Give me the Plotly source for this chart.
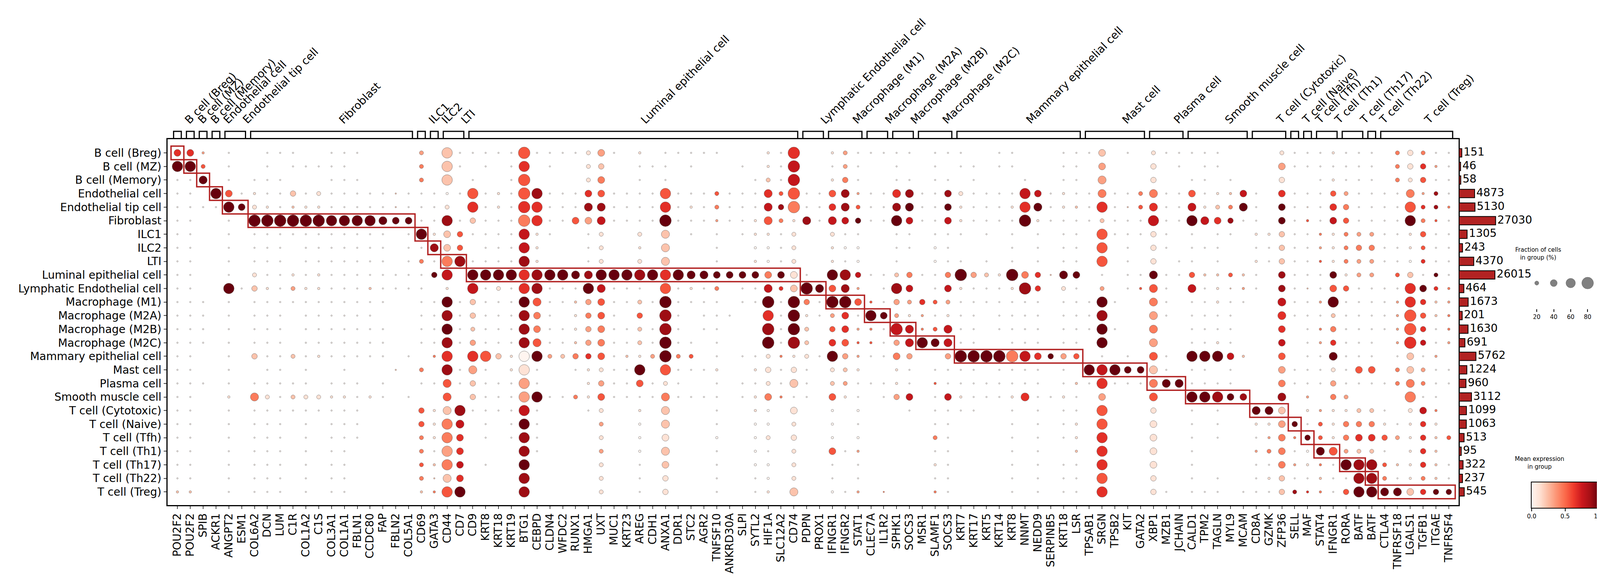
import numpy as np
import plotly.graph_objects as go

W, H = 4124, 1476
FONT = "DejaVu Sans"

CELL_TYPES = [
    "B cell (Breg)", "B cell (MZ)", "B cell (Memory)", "Endothelial cell",
    "Endothelial tip cell", "Fibroblast", "ILC1", "ILC2", "LTI",
    "Luminal epithelial cell", "Lymphatic Endothelial cell", "Macrophage (M1)",
    "Macrophage (M2A)", "Macrophage (M2B)", "Macrophage (M2C)",
    "Mammary epithelial cell", "Mast cell", "Plasma cell", "Smooth muscle cell",
    "T cell (Cytotoxic)", "T cell (Naive)", "T cell (Tfh)", "T cell (Th1)",
    "T cell (Th17)", "T cell (Th22)", "T cell (Treg)",
]
CELL_COUNTS = [151, 46, 58, 4873, 5130, 27030, 1305, 243, 4370, 26015, 464, 1673,
               201, 1630, 691, 5762, 1224, 960, 3112, 1099, 1063, 513, 95, 322, 237, 545]

GENES = [
    "POU2F2", "POU2F2", "SPIB", "ACKR1", "ANGPT2", "ESM1", "COL6A2", "DCN", "LUM", "C1R",
    "COL1A2", "C1S", "COL3A1", "COL1A1", "FBLN1", "CCDC80", "FAP", "FBLN2", "COL5A1", "CD69",
    "GATA3", "CD44", "CD7", "CD9", "KRT8", "KRT18", "KRT19", "BTG1", "CEBPD", "CLDN4",
    "WFDC2", "RUNX1", "HMGA1", "UXT", "MUC1", "KRT23", "AREG", "CDH1", "ANXA1", "DDR1",
    "STC2", "AGR2", "TNFSF10", "ANKRD30A", "SLPI", "SYTL2", "HIF1A", "SLC12A2", "CD74", "PDPN",
    "PROX1", "IFNGR1", "IFNGR2", "STAT1", "CLEC7A", "IL1R2", "SPHK1", "SOCS3", "MSR1", "SLAMF1",
    "SOCS3", "KRT7", "KRT17", "KRT5", "KRT14", "KRT8", "NNMT", "NEDD9", "SERPINB5", "KRT18",
    "LSR", "TPSAB1", "SRGN", "TPSB2", "KIT", "GATA2", "XBP1", "MZB1", "JCHAIN", "CALD1",
    "TPM2", "TAGLN", "MYL9", "MCAM", "CD8A", "GZMK", "ZFP36", "SELL", "MAF", "STAT4",
    "IFNGR1", "RORA", "BATF", "BATF", "CTLA4", "TNFRSF18", "LGALS1", "TGFB1", "ITGAE", "TNFRSF4",
]
# number of marker genes per cell type (same order as CELL_TYPES)
GROUP_SIZES = [1, 1, 1, 1, 2, 13, 1, 1, 2, 26, 2, 3, 2, 2, 3, 10, 5, 3, 5, 3, 1, 1, 2, 2, 1, 6]

# fraction of cells level per dot (index into FRACTION_LEVELS), one string per cell type
FRACTION_LEVELS = [0, 5, 10, 20, 30, 40, 50, 70, 80, 90]  # percent
FRACTION_CODES = [
    "5520100111 0011100003 0711111811 1135102011 1110002180 0231111101 1100110001 1150103111 1100003111 2111034311",
    "7730100101 1111000003 0710101701 0034001110 1000102180 0131001001 0110110001 1050004010 1100005111 1111034421",
    "1160101110 0011100003 0701001800 0035001010 0000013180 0241001101 1010001001 1060004001 1010004001 2111033411",
    "1107512114 1311111111 1217121871 1155111171 1131116381 1562116611 5311117512 1161136115 1225105111 4311116231",
    "1111753212 2211111111 1307121871 1166111171 2131116481 1563116611 5211127612 2171136116 2336105111 5411117332",
    "1100108888 8877776551 1714111871 1556111181 1121126326 1654117511 5211118211 1131117117 6541105121 5411117321",
    "1100101111 1111111017 2541111721 0013003060 1010122130 0311001101 1101010101 1071114101 0110224112 2333112411",
    "1100101110 1111111011 6540111720 0013002060 0010022130 0222001102 1000010101 1070104101 1100114112 2344112311",
    "1100101110 1111111013 1771111720 0013003060 0010022130 0212001002 1101010101 1070104011 0100214112 2333112311",
    "1100103112 1211111111 4707777777 7667777777 6655555551 0774113411 4843285416 5010116114 2232105111 5233034131",
    "1100714213 2211121111 0207131771 1176111071 2130116358 6562017501 5211128403 1030126106 1212105111 5411117532",
    "1110101111 1111111001 1714111761 1245113181 1110118184 1885214343 3111111101 1171006101 1211006112 7111127422",
    "1110101110 1111110001 1714111751 0245104081 0111007182 1351753221 2110111101 1170006101 1110006111 3111128422",
    "1110101110 1111111001 1713111751 1245113181 0110008183 0452218623 6110111101 1171006001 1110005012 4111128412",
    "1110101110 1111111001 1714111761 1245113181 1010008183 0552214676 6110011101 1070006001 1210005012 4111028412",
    "1100104113 1211111010 2707742773 3445122383 3010113223 1742115400 4888887544 4010106107 7752005011 6111015120",
    "1100100110 1001000103 0716102710 0123117071 1120024141 0332002101 1110111101 0777556101 1010005111 3155035311",
    "1110101111 1011101001 1614111710 0024115131 0010113161 0331112102 1111111101 2171116661 1110005111 4111136311",
    "1100206313 3322121010 0604111771 1325111161 1110125211 0521014501 5211126112 1050006007 7755006020 4300007110",
    "1100101111 1111100004 2671111710 0013002060 0010022050 0202000101 1110010101 1070004001 0100665022 2233103520",
    "1100101110 1011100004 2760101710 0003002060 0010022030 0201000001 1000010101 2070005001 0100225413 2444212420",
    "1100101110 1011100003 2750101710 0003002050 0020023040 0202000003 1000010101 2070005001 0100125243 2455432423",
    "1100101110 1011000003 1750000710 0003002060 0010021030 0512000001 1000010100 2070005001 0000235126 6333102420",
    "1100101110 1011000003 2750100700 0003001050 0010022030 0101000002 1000010101 1070005001 0000115222 1777322421",
    "1100101110 1011000003 1650000700 0003001040 0010012030 0101000001 1000010101 1070004001 0100124112 1177312321",
    "2200101110 1011000002 2770000700 0003001040 0010012060 0212010002 1000010101 1070004101 1101114322 1477665444",
]
# mean expression level per dot, 0..9 -> 0..1
EXPRESSION_CODES = [
    "6630000000 0000000003 0200000500 0013001000 0000001060 0130000000 0000000000 0020001000 0000001000 1000041400",
    "9950000000 0000000004 0200000600 0012000000 0000001070 0030000000 0000000000 0030001000 0000003000 0000041630",
    "0090000000 0000000004 0200000500 0014000000 0000002070 0140000000 0000000000 0030001000 0000001000 1000041500",
    "0009501002 0100000200 0005010580 0065000050 0050006550 0583006800 8100007701 0040044005 0127006000 5300004380",
    "0000991102 1100000200 0106010660 0088000060 1040007840 0685008900 9100016901 2060256007 1249009010 6400005684",
    "0000009999 9999999990 0802000460 0537000090 0030015418 0779009700 7100009100 0020007009 7680009050 7500009450",
    "0000000000 0000000009 1250000710 0001001020 0000011010 0100000000 0000000000 0050001000 0000112004 1433001500",
    "0000000000 0000000000 8250000710 0001001020 0000000010 0100000000 0000000000 0050001000 0000002003 1444001500",
    "0000000000 0000000004 0480000810 0001001020 0000010010 0100000000 0000000000 0050001000 0000102005 1433000600",
    "0000001001 0100000000 9709999689 9989998969 9999994910 0987002400 4932194629 9000009005 2252008000 9133052090",
    "0000902103 1100020000 0107010680 0097000050 1040007629 9583008700 7100018601 0030055007 0123008020 5500006964",
    "0000000000 0000000000 0902000950 0235002090 0000009094 0995503365 3000000000 0090004000 0100007003 9000036623",
    "0000000000 0000000000 0802000840 0145005080 0000006091 0360993130 1000000000 0080003000 0000006000 2000035524",
    "0000000000 0000000000 0902000840 0134002080 0000008092 0563407745 7000000000 0090004000 0000006004 4000035604",
    "0000000000 0000000000 0803000850 0234002090 0000009082 0655503799 7000000000 0090003000 0100007003 6000036703",
    "0000002002 0100000000 4606521093 2465021394 5000001411 0933004300 3999947693 5000005009 9972005000 9000002030",
    "0000000000 0000000204 0803001100 0011009050 0010011010 0121001000 0000000000 0979992000 0000003000 1055042300",
    "0000000000 0000000000 0502000300 0013005010 0000001020 0230001005 0000000000 2060004990 0000004000 3000044400",
    "0000104102 1111010000 0502000390 0415000040 0000014400 0510003700 7100016001 0030005009 9898008030 4300004000",
    "0000000000 0000000005 1280000700 0001001020 0000010010 0000000000 0000000000 0050001000 0000992013 1122001740",
    "0000000000 0000000005 1470000900 0003000020 0000000010 0000000000 0000000000 1050001000 0000113905 1444101610",
    "0000000000 0000000004 1460000800 0001000010 0000001010 0000000004 0000000000 1060001000 0000034495 1466531625",
    "0000000000 0000000004 0360000800 0003000020 0000000010 0503000000 0000000000 2060001000 0000344009 5322001620",
    "0000000000 0000000005 2470000900 0001000020 0000000010 0000000001 0000000000 0060001000 0000004314 0988521620",
    "0000000000 0000000004 2260000800 0001000010 0000000010 0000000000 0000000000 0050001000 0000012002 0088401420",
    "2200000000 0000000002 4590000800 0001000010 0000001020 0003040004 0000000000 0060001000 0000002864 0599992699",
]
LEGEND_FRACTIONS = [20, 40, 60, 80]
COLORBAR_TICKS = [0.0, 0.5, 1.0]

REDS = [[0.0, "#fff5f0"], [0.125, "#fee0d2"], [0.25, "#fcbba1"], [0.375, "#fc9272"],
        [0.5, "#fb6a4a"], [0.625, "#ef3b2c"], [0.75, "#cb181d"], [0.875, "#a50f15"],
        [1.0, "#67000d"]]


def px_x(p):
    return p / W


def px_y(p):
    return 1 - p / H


def dot_diameter(frac):
    # area ~ fraction**1.5 as in scanpy dotplot
    return 30 * (np.asarray(frac, dtype=float) / 80.0) ** 0.75


n_rows, n_cols = len(CELL_TYPES), len(GENES)
frac = np.array([[FRACTION_LEVELS[int(c)] for c in s.replace(" ", "")] for s in FRACTION_CODES])
expr = np.array([[int(c) / 9 for c in s.replace(" ", "")] for s in EXPRESSION_CODES])
assert frac.shape == (n_rows, n_cols) and expr.shape == (n_rows, n_cols)

rr, cc = np.nonzero(frac)
X_RANGE = [-0.78, 99.77]
Y_RANGE = [25.97, -1.01]
main_x = [px_x(411), px_x(3736)]
main_y = [px_y(1284), px_y(348)]

fig = go.Figure()

fig.add_trace(go.Scatter(
    x=cc, y=rr, mode="markers", hoverinfo="skip", showlegend=False,
    marker=dict(
        size=dot_diameter(frac[rr, cc]), color=expr[rr, cc], cmin=0, cmax=1,
        colorscale=REDS, opacity=1, line=dict(color="rgb(95,95,95)", width=0.7),
        showscale=False,
    ),
))

# cell count bars (sqrt-scaled length)
fig.add_trace(go.Bar(
    x=np.sqrt(CELL_COUNTS), y=list(range(n_rows)), orientation="h", width=0.62,
    marker=dict(color="#b22222", line=dict(color="black", width=2)),
    xaxis="x3", yaxis="y3", showlegend=False, hoverinfo="skip",
))
fig.add_trace(go.Scatter(
    x=np.sqrt(CELL_COUNTS) + 8, y=list(range(n_rows)), mode="text",
    text=[str(c) for c in CELL_COUNTS], textposition="middle right",
    textfont=dict(size=28, family=FONT, color="black"),
    xaxis="x3", yaxis="y3", showlegend=False, hoverinfo="skip", cliponaxis=False,
))

# size legend
fig.add_trace(go.Scatter(
    x=LEGEND_FRACTIONS, y=[0.54] * 4, mode="markers", xaxis="x4", yaxis="y4",
    marker=dict(size=dot_diameter(LEGEND_FRACTIONS), color="gray", opacity=1,
                line=dict(color="rgb(95,95,95)", width=0.7)),
    showlegend=False, hoverinfo="skip", cliponaxis=False,
))

# colour legend: the Reds scale drawn as a strip
ramp = np.linspace(0, 1, 256)
fig.add_trace(go.Heatmap(
    z=[ramp], x=ramp, y=[0], colorscale=REDS, zmin=0, zmax=1, showscale=False,
    xaxis="x5", yaxis="y5", hoverinfo="skip",
))

shapes = []
annotations = []
start = 0
for i, n in enumerate(GROUP_SIZES):
    # highlighted diagonal box
    shapes.append(dict(type="rect", xref="x", yref="y", x0=start - 0.5, x1=start + n - 0.5,
                       y0=i - 0.5, y1=i + 0.5, line=dict(color="#b22222", width=3.5),
                       layer="above"))
    # bracket above the plot
    x0, x1 = start - 0.3, start + n - 1 + 0.3
    yb, yt = px_y(348), px_y(328)
    shapes.append(dict(type="path", xref="x", yref="paper",
                       path=f"M {x0},{yb} L {x0},{yt} L {x1},{yt} L {x1},{yb}",
                       line=dict(color="black", width=3)))
    annotations.append(dict(x=(x0 + x1) / 2 + 0.3, y=px_y(318), xref="x", yref="paper",
                            text=CELL_TYPES[i], textangle=-45, showarrow=False,
                            xanchor="left", yanchor="bottom",
                            font=dict(size=28, family=FONT, color="black")))
    start += n

annotations.append(dict(x=px_x(4002), y=px_y(641), xref="paper", yref="paper",
                        text="Fraction of cells<br>in group (%)", showarrow=False,
                        font=dict(size=15, family=FONT, color="black")))
annotations.append(dict(x=px_x(4010), y=px_y(1197), xref="paper", yref="paper",
                        text="Mean expression<br>in group", showarrow=False,
                        font=dict(size=15, family=FONT, color="black")))

axis_common = dict(showgrid=False, zeroline=False)
fig.update_layout(
    width=W, height=H, margin=dict(l=0, r=0, t=0, b=0),
    paper_bgcolor="white", plot_bgcolor="rgba(0,0,0,0)", showlegend=False,
    font=dict(family=FONT, color="black"),
    xaxis=dict(domain=main_x, range=X_RANGE, tickvals=list(range(n_cols)), ticktext=GENES,
               tickangle=-90, ticks="outside", ticklen=7, tickwidth=1.5,
               tickfont=dict(size=28), showline=True, linewidth=2.5, linecolor="black",
               mirror=True, anchor="y", **axis_common),
    yaxis=dict(domain=main_y, range=Y_RANGE, tickvals=list(range(n_rows)), ticktext=CELL_TYPES,
               ticks="outside", ticklen=7, tickwidth=1.5, tickfont=dict(size=28),
               showline=True, linewidth=2.5, linecolor="black", mirror=True, anchor="x",
               **axis_common),
    xaxis3=dict(domain=[px_x(3737), 1], range=[0, 387 / 0.5724], visible=False,
                anchor="y3", **axis_common),
    yaxis3=dict(domain=main_y, range=Y_RANGE, visible=False, anchor="x3", **axis_common),
    xaxis4=dict(domain=[px_x(3890), px_x(4115)], range=[-1.53, 101.5], anchor="y4",
                tickvals=LEGEND_FRACTIONS, ticks="outside", ticklen=7, tickwidth=2,
                tickcolor="black", showline=False, tickfont=dict(size=15), **axis_common),
    yaxis4=dict(domain=[px_y(782), px_y(660)], range=[0, 1], visible=False, anchor="x4",
                **axis_common),
    xaxis5=dict(domain=[px_x(3924), px_x(4096)], range=[0, 1], anchor="y5",
                tickvals=COLORBAR_TICKS, ticktext=[f"{t:.1f}" for t in COLORBAR_TICKS],
                ticks="outside", ticklen=7, tickwidth=2, tickcolor="black",
                showline=True, linewidth=2, linecolor="black", mirror=True,
                tickfont=dict(size=15), **axis_common),
    yaxis5=dict(domain=[px_y(1291), px_y(1226)], range=[-0.5, 0.5], anchor="x5",
                showticklabels=False, ticks="", showline=True, linewidth=2,
                linecolor="black", mirror=True, **axis_common),
    shapes=shapes, annotations=annotations,
)

fig.write_html("out.html")
